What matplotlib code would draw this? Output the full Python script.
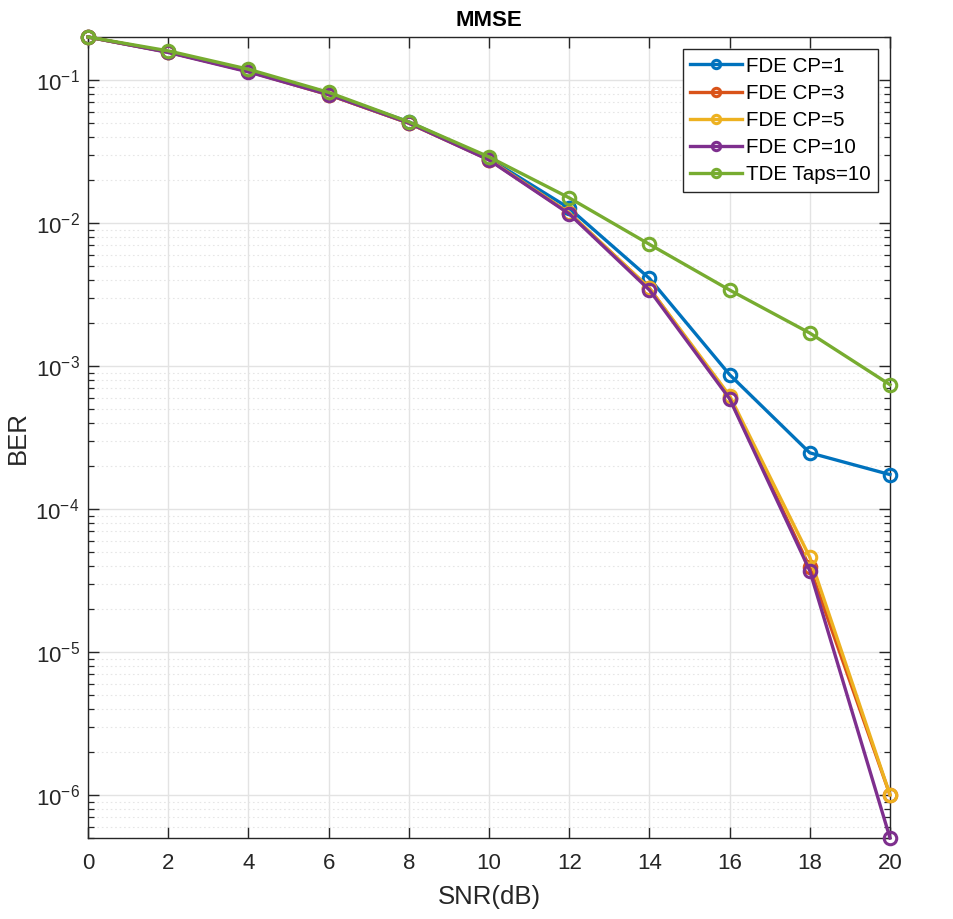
import numpy as np
import matplotlib
matplotlib.use('Agg')
import matplotlib.pyplot as plt
from matplotlib.ticker import LogLocator, FixedLocator, FixedFormatter

plt.rcParams['font.family'] = ['Liberation Sans', 'DejaVu Sans']
plt.rcParams['mathtext.fontset'] = 'custom'
plt.rcParams['mathtext.rm'] = 'Liberation Sans'
plt.rcParams['mathtext.it'] = 'Liberation Sans'

# SNR (dB)
snr = [0, 2, 4, 6, 8, 10, 12, 14, 16, 18, 20]

# BER values
ber_cp1 = [0.2, 0.157, 0.116, 0.080, 0.051, 0.0282, 0.0127, 0.0041, 8.7e-4, 2.47e-4, 1.74e-4]
ber_cp3 = [0.2, 0.157, 0.115, 0.079, 0.050, 0.0278, 0.0117, 0.0035, 6.0e-4, 3.9e-5, 1.0e-6]
ber_cp5 = [0.2, 0.157, 0.115, 0.079, 0.050, 0.0278, 0.0118, 0.0035, 6.2e-4, 4.6e-5, 1.0e-6]
ber_cp10 = [0.2, 0.156, 0.114, 0.079, 0.050, 0.0276, 0.0116, 0.0034, 5.9e-4, 3.7e-5, 5.0e-7]
ber_tde = [0.2, 0.160, 0.119, 0.082, 0.051, 0.0290, 0.0150, 0.0071, 0.0034, 1.70e-3, 7.4e-4]

labels = ['FDE CP=1', 'FDE CP=3', 'FDE CP=5', 'FDE CP=10', 'TDE Taps=10']
colors = ['#0072BD', '#D95319', '#EDB120', '#7E2F8E', '#77AC30']
series = [ber_cp1, ber_cp3, ber_cp5, ber_cp10, ber_tde]

ytick_vals = [1e-6, 1e-5, 1e-4, 1e-3, 1e-2, 1e-1]
ytick_labels = ['10$^{-6}$', '10$^{-5}$', '10$^{-4}$', '10$^{-3}$', '10$^{-2}$', '10$^{-1}$']

fig = plt.figure(figsize=(9.54, 9.19), dpi=100)
ax = fig.add_axes([88/954, (919-838)/919, (890-88)/954, (838-37)/919])

for s, c, lab in zip(series, colors, labels):
    ax.semilogy(snr, s, '-o', color=c, lw=2.4, ms=9, mfc='none', mew=2.2,
                label=lab, clip_on=False, zorder=3)

ax.set_xlim(0, 20)
ax.set_ylim(5e-7, 0.2)
ax.set_xticks(np.arange(0, 21, 2))
ax.yaxis.set_major_locator(FixedLocator(ytick_vals))
ax.yaxis.set_major_formatter(FixedFormatter(ytick_labels))
ax.yaxis.set_minor_locator(LogLocator(base=10, subs=np.arange(2, 10), numticks=20))

ax.grid(True, which='major', color='#E3E3E3', lw=1.0, ls='-')
ax.grid(True, which='minor', axis='y', color='#E6E6E6', lw=0.8, ls=(0, (1.5, 2.5)))
ax.set_axisbelow(True)

ax.tick_params(which='both', direction='in', top=True, right=True, colors='#262626')
ax.tick_params(which='major', length=8, width=1.0, labelsize=16, pad=11)
ax.tick_params(which='minor', length=4.5, width=0.9)
ax.tick_params(axis='y', which='major', pad=6)
for sp in ax.spines.values():
    sp.set_color('#262626')
    sp.set_linewidth(1.0)

ax.set_xlabel('SNR(dB)', fontsize=18.5, color='#262626')
ax.set_ylabel('BER', fontsize=18.5, color='#262626')
ax.xaxis.set_label_coords(0.5, -0.059)
ax.yaxis.set_label_coords(-0.072, 0.5)
ax.set_title('MMSE', fontsize=16, fontweight='bold', pad=8)

leg = ax.legend(loc='upper right', fontsize=14.8, fancybox=False, framealpha=1,
                edgecolor='#262626', borderaxespad=0.6, handlelength=2.5,
                labelspacing=0.4, borderpad=0.35, handletextpad=0.2)
leg.get_frame().set_linewidth(1.0)
for h in leg.get_lines():
    h.set_markersize(6)

fig.savefig('out.png', dpi=100)
